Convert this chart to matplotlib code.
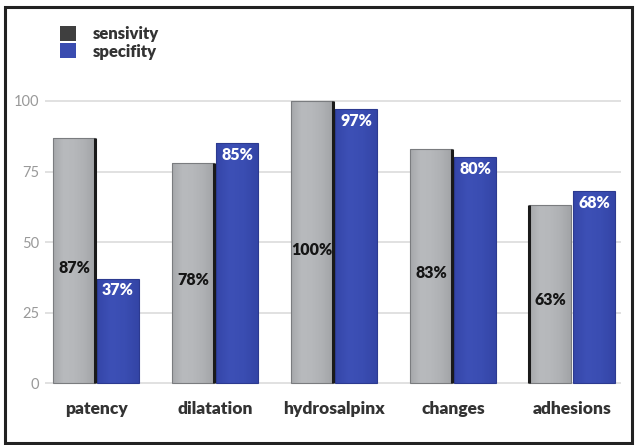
import numpy as np
import matplotlib
matplotlib.use("Agg")
import matplotlib.pyplot as plt
from matplotlib.patches import Rectangle, Patch
from matplotlib.colors import LinearSegmentedColormap

categories = ["patency", "dilatation", "hydrosalpinx", "changes", "adhesions"]
sensitivity = [87, 78, 100, 83, 63]
specificity = [37, 85, 97, 80, 68]
yticks = [0, 25, 50, 75, 100]
legend_labels = ["sensivity", "specifity"]

FONT = "Lato"
BLUE = "#3a4cb0"
DARK = "#3f3f3f"

fig = plt.figure(figsize=(6.38, 4.45), dpi=100)
ax = fig.add_axes([45 / 638, (445 - 390) / 445, 576 / 638, 300 / 445])

x = np.arange(len(categories))
off, width = 0.185, 0.35

gray_cmap = LinearSegmentedColormap.from_list(
    "cyl", ["#a6a8ab", "#b8babd", "#b6b8bb", "#afb1b4", "#a2a4a7"])
blue_cmap = LinearSegmentedColormap.from_list(
    "cylb", ["#3546a8", "#3d50b6", "#3a4db2", "#3445a6"])
grad = np.linspace(0, 1, 64).reshape(1, -1)


def shade(bars, cmap, edge):
    for b in bars:
        x0, y0 = b.get_x(), b.get_y()
        w, h = b.get_width(), b.get_height()
        im = ax.imshow(grad, cmap=cmap, aspect="auto",
                       extent=(x0, x0 + w, y0, y0 + h), zorder=2,
                       interpolation="bicubic")
        im.set_clip_path(b)
        b.set_facecolor("none")
        b.set_edgecolor(edge)
        b.set_linewidth(0.8)
        b.set_zorder(3)


gbars = ax.bar(x - off, sensitivity, width, color="#b0b2b5")
bbars = ax.bar(x + off, specificity, width, color=BLUE)
shade(gbars, gray_cmap, "#7a7c7f")
shade(bbars, blue_cmap, "#2c3a90")

# dark side of each gray column
for i, b in enumerate(gbars):
    side = b.get_x() + b.get_width() if i < 4 else b.get_x()
    ax.plot([side, side], [0, b.get_height()], color="#1a1a1a",
            lw=2.2, zorder=4, solid_capstyle="butt")

for i, v in enumerate(sensitivity):
    ax.text(x[i] - off, v * 0.47, f"{v}%", ha="center", va="center",
            fontsize=11.5, fontweight="heavy", color="#151515",
            family=FONT, zorder=5)
for i, v in enumerate(specificity):
    ax.text(x[i] + off, v - 4, f"{v}%", ha="center", va="center",
            fontsize=11.5, fontweight="heavy", color="white",
            family=FONT, zorder=5)

ax.set_xlim(-0.4286, 4.412)
ax.set_ylim(-2.48, 103.9)
ax.set_yticks(yticks)
ax.set_yticklabels([str(t) for t in yticks], family=FONT,
                   fontweight="normal", fontsize=10.5, color="#999999")
ax.set_xticks(x)
ax.set_xticklabels(categories, family=FONT, fontweight="heavy",
                   fontsize=12.5, color="#333333")
ax.tick_params(axis="y", length=0, pad=4)
ax.tick_params(axis="x", length=0, pad=8)
ax.yaxis.grid(True, color="#dcdcdc", lw=1.2)
ax.set_axisbelow(True)
for s in ax.spines.values():
    s.set_visible(False)

handles = [Patch(facecolor=DARK, edgecolor="none"),
           Patch(facecolor=BLUE, edgecolor="none")]
leg = fig.legend(handles, legend_labels, loc="upper left",
                 bbox_to_anchor=(53 / 638, 1 - 19 / 445), frameon=False,
                 handlelength=1.0, handleheight=1.0, handletextpad=1.0,
                 labelspacing=0.1, borderaxespad=0,
                 prop={"family": FONT, "weight": "heavy", "size": 12})
for t in leg.get_texts():
    t.set_color("#333333")

fig.patches.append(Rectangle((5 / 638, 2 / 445), 627 / 638, 436 / 445,
                             transform=fig.transFigure, fill=False,
                             edgecolor="#222222", lw=2.2))

fig.savefig("out.png", dpi=100)
